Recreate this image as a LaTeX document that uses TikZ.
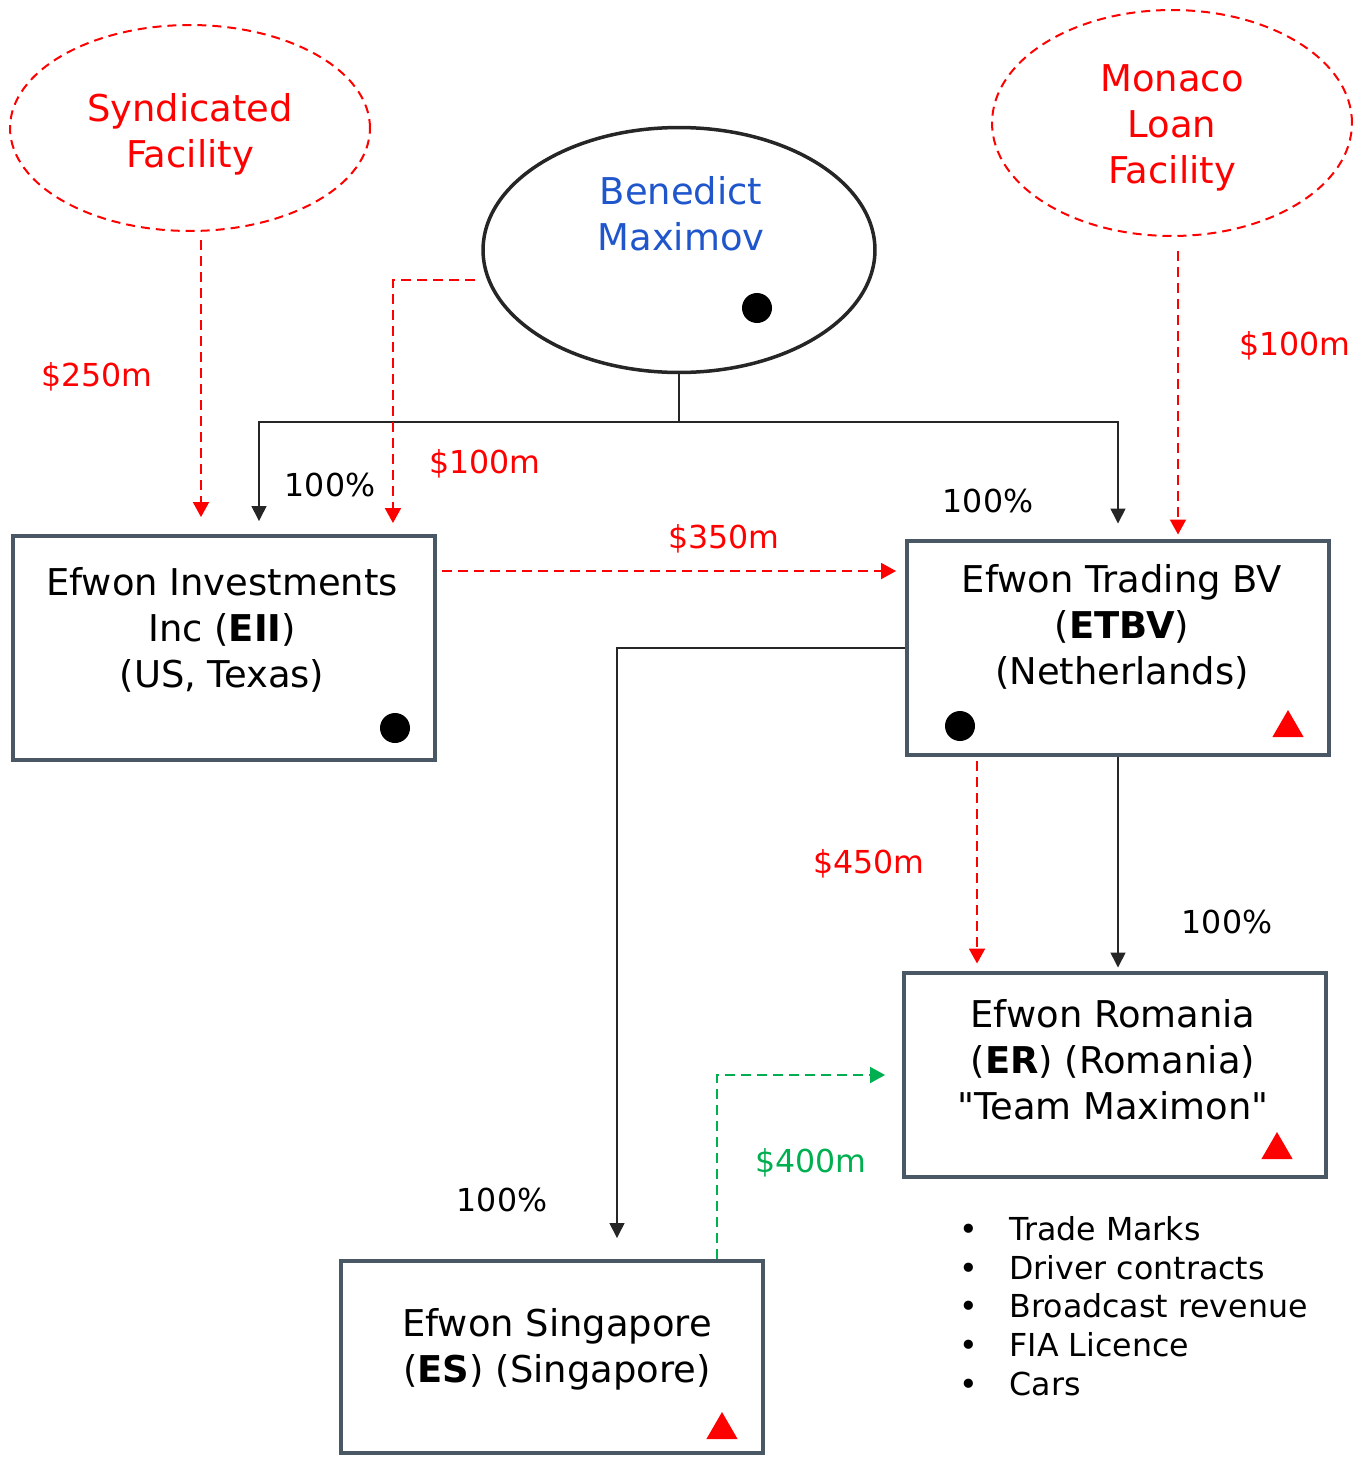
\documentclass[tikz,border=0pt]{standalone}
\usepackage{fontspec}
\setmainfont{DejaVu Sans}[Ligatures=TeXOff]
\usetikzlibrary{positioning, arrows.meta, shapes.geometric}

\definecolor{boxgrey}{RGB}{74,88,102}
\definecolor{nameblue}{RGB}{32,86,204}
\definecolor{loangreen}{RGB}{0,176,80}

\begin{document}
\begin{tikzpicture}[
    x=0.02cm, y=-0.02cm,
    every node/.style={align=center, font=\fontsize{21}{26.2}\selectfont},
    entity/.style={rectangle, draw=boxgrey, line width=0.08cm, minimum width=8.44cm},
    facility/.style={ellipse, draw=red, line width=0.04cm, dash pattern=on 0.18cm off 0.12cm, minimum width=7.2cm},
    owner/.style={ellipse, draw=black!85, line width=0.07cm, minimum width=7.84cm, minimum height=4.9cm},
    amount/.style={font=\fontsize{18}{22}\selectfont, text=red},
    share/.style={font=\fontsize{18}{22}\selectfont},
    blackdot/.style={circle, fill=black, inner sep=0pt, minimum size=0.6cm},
    redflag/.style={regular polygon, regular polygon sides=3, fill=red, inner sep=0pt, minimum size=0.72cm},
    own/.style={-{Triangle[length=0.3cm, width=0.3cm]}, line width=0.03cm, black!85},
    loan/.style={-{Triangle[length=0.3cm, width=0.32cm]}, line width=0.04cm, red, dash pattern=on 0.2cm off 0.12cm}
]
\useasboundingbox (0,0) rectangle (1368,1457);

% --- Lenders and owner
\node[facility, minimum height=4.12cm] (sf) at (190,128) {};
\node[text=red] (sftext) at (190,134) {Syndicated\\Facility};
\node[facility, minimum height=4.52cm] (mlf) at (1172,123) {};
\node[text=red] (mlftext) at (1172,128) {Monaco\\Loan\\Facility};
\node[owner] (bm) at (679,250) {};
\node[text=nameblue] (bmname) at (681,214) {Benedict\\Maximov};
\node[blackdot] (bmdot) at (757,308) {};

% --- Companies
\node[entity, minimum height=4.48cm] (eii) at (224,648) {};
\node (eiitext) at (222,630) {Efwon Investments\\Inc (\textbf{EII})\\(US, Texas)};
\node[blackdot] (eiidot) at (395,728) {};

\node[entity, minimum height=4.3cm] (etbv) at (1118,648) {};
\node (etbvtext) at (1122,627) {Efwon Trading BV\\(\textbf{ETBV})\\(Netherlands)};
\node[blackdot] (etbvdot) at (960,726) {};
\node[redflag] (etbvflag) at (1288,728) {};

\node[entity, minimum height=4.1cm] (er) at (1115,1075) {};
\node (ertext) at (1113,1060) {Efwon Romania\\(\textbf{ER}) (Romania)\\"Team Maximon"};
\node[redflag] (erflag) at (1277,1150) {};

\node[entity, minimum height=3.84cm] (es) at (552,1357) {};
\node (estext) at (557,1349) {Efwon Singapore\\(\textbf{ES}) (Singapore)};
\node[redflag] (esflag) at (722,1430) {};

% --- Assets held by ER
\node[share, align=left, anchor=north west, inner sep=0pt] (assets) at (959,1216)
    {\textbullet\hspace{1em}Trade Marks\\
     \textbullet\hspace{1em}Driver contracts\\
     \textbullet\hspace{1em}Broadcast revenue\\
     \textbullet\hspace{1em}FIA Licence\\
     \textbullet\hspace{1em}Cars};

% --- Ownership lines
\coordinate (fork) at (679,422);
\draw[own, -] (bm.south) -- (fork);
\draw[own, shorten >=0.26cm] (fork) -| ([xshift=0.7cm]eii.north);
\draw[own, shorten >=0.3cm] (fork) -| (etbv.north);
\draw[own, shorten >=0.42cm] (etbv.west) -| ([xshift=1.3cm]es.north);
\draw[own, shorten >=0.06cm] (etbv.south) -- (etbv.south |- er.north);

\node[share] (pcteii) at (330,485) {100\%};
\node[share] (pctetbv) at (988,501) {100\%};
\node[share] (pctes) at (502,1200) {100\%};
\node[share] (pcter) at (1227,922) {100\%};

% --- Loans
\draw[loan, shorten <=0.16cm, shorten >=0.34cm] ([xshift=0.22cm]sf.south) -- ([xshift=0.22cm]sf.south |- eii.north);
\draw[loan, shorten <=0.28cm, shorten >=0.08cm] ([xshift=0.12cm]mlf.south) -- ([xshift=0.12cm]mlf.south |- etbv.north);
\draw[loan, shorten >=0.22cm] ([xshift=-0.12cm, yshift=-0.6cm]bm.west) -| ([xshift=3.38cm]eii.north);
\draw[loan, shorten <=0.1cm, shorten >=0.18cm] ([yshift=1.54cm]eii.east) -- ([yshift=1.54cm]eii.east -| etbv.west);
\draw[loan, shorten <=0.08cm, shorten >=0.14cm] ([xshift=-2.82cm]etbv.south) -- ([xshift=-2.82cm]etbv.south |- er.north);
\draw[loan, loangreen, shorten >=0.34cm] ([xshift=3.31cm]es.north) |- (er.west);

\node[amount] (amt250) at (97,377) {\$250m};
\node[amount] (amt100a) at (485,464) {\$100m};
\node[amount] (amt100b) at (1295,346) {\$100m};
\node[amount] (amt350) at (724,539) {\$350m};
\node[amount] (amt450) at (869,864) {\$450m};
\node[amount, text=loangreen] (amt400) at (811,1163) {\$400m};

\end{tikzpicture}
\end{document}
